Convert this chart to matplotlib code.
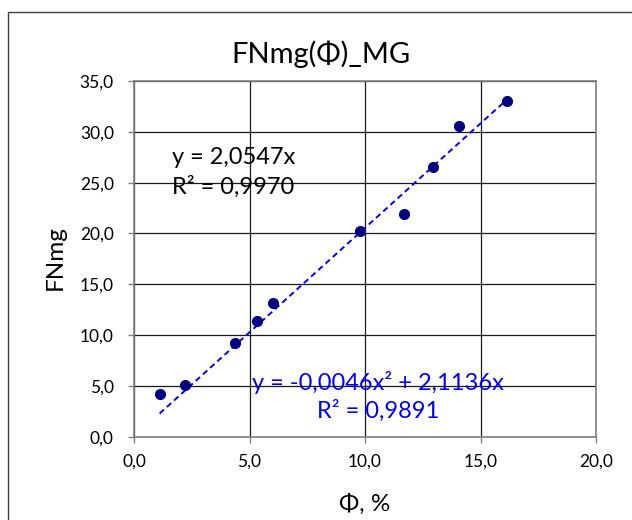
import matplotlib
matplotlib.use("Agg")
import matplotlib.pyplot as plt
from matplotlib.patches import Rectangle
import numpy as np

# Measured data
phi = [1.11, 2.22, 4.39, 5.34, 6.00, 9.78, 11.70, 12.94, 14.06, 16.16]
fnmg = [4.17, 5.06, 9.19, 11.42, 13.13, 20.20, 21.89, 26.50, 30.58, 33.00]

# Trendline coefficients (linear through origin, quadratic through origin)
lin_slope = 2.0547
lin_r2 = 0.9970
quad_a = -0.0046
quad_b = 2.1136
quad_r2 = 0.9891

x_ticks = [0, 5, 10, 15, 20]
y_ticks = [0, 5, 10, 15, 20, 25, 30, 35]

plt.rcParams['font.family'] = ['Lato', 'DejaVu Sans']


def fmt(v, nd=1):
    return f"{v:.{nd}f}".replace('.', ',')


W, H = 632, 520
fig = plt.figure(figsize=(W / 100, H / 100), dpi=100)
fig.patch.set_facecolor('white')

# chart-area frame
fig.patches.append(Rectangle((8 / W, -0.1), 1.2, (H - 12) / H + 0.1,
                             transform=fig.transFigure, fill=False,
                             edgecolor='#404040', linewidth=1.0))

ax = fig.add_axes([134 / W, (H - 436.7) / H, (596 - 134) / W, (436.7 - 81) / H])
ax.set_xlim(0, 20)
ax.set_ylim(0, 35)
ax.set_xticks(x_ticks)
ax.set_yticks(y_ticks)
ax.set_xticklabels([fmt(v) for v in x_ticks])
ax.set_yticklabels([fmt(v) for v in y_ticks])
ax.tick_params(axis='both', direction='out', length=4.5, width=1, color='#808080',
               labelsize=12.5)
ax.tick_params(axis='y', pad=10)
ax.tick_params(axis='x', pad=8)
ax.grid(True, color='#1a1a1a', linewidth=0.9)
ax.set_axisbelow(True)
for side in ['left', 'bottom', 'top', 'right']:
    ax.spines[side].set_color('#808080')
    ax.spines[side].set_linewidth(1.2)

# linear trendline across the data range
xt = np.array([min(phi), max(phi)])
ax.plot(xt, lin_slope * xt, color='#0000FF', linestyle=(0, (3, 2)), linewidth=1.4, zorder=3)

ax.plot(phi, fnmg, 'o', color='#000080', markersize=7, zorder=4)

ax.text(1.65, 27.5, f"y = {fmt(lin_slope, 4)}x", fontsize=17, color='black', va='center')
ax.text(1.65, 24.6, f"R² = {fmt(lin_r2, 4)}", fontsize=17, color='black', va='center')
ax.text(10.56, 5.3, f"y = {fmt(quad_a, 4)}x² + {fmt(quad_b, 4)}x", fontsize=17,
        color='#0000FF', va='center', ha='center')
ax.text(10.56, 2.6, f"R² = {fmt(quad_r2, 4)}", fontsize=17, color='#0000FF',
        va='center', ha='center')

fig.text(321 / W, 1 - 63 / H, "FNmg(Φ)_MG", fontsize=21, ha='center', va='baseline')
fig.text(55 / W, 1 - 258 / H, "FNmg", fontsize=17.5, rotation=90, ha='center', va='center')
fig.text(364.6 / W, 1 - 511 / H, "Φ, %", fontsize=17.5, ha='center', va='baseline')

fig.savefig("out.png", dpi=100)
